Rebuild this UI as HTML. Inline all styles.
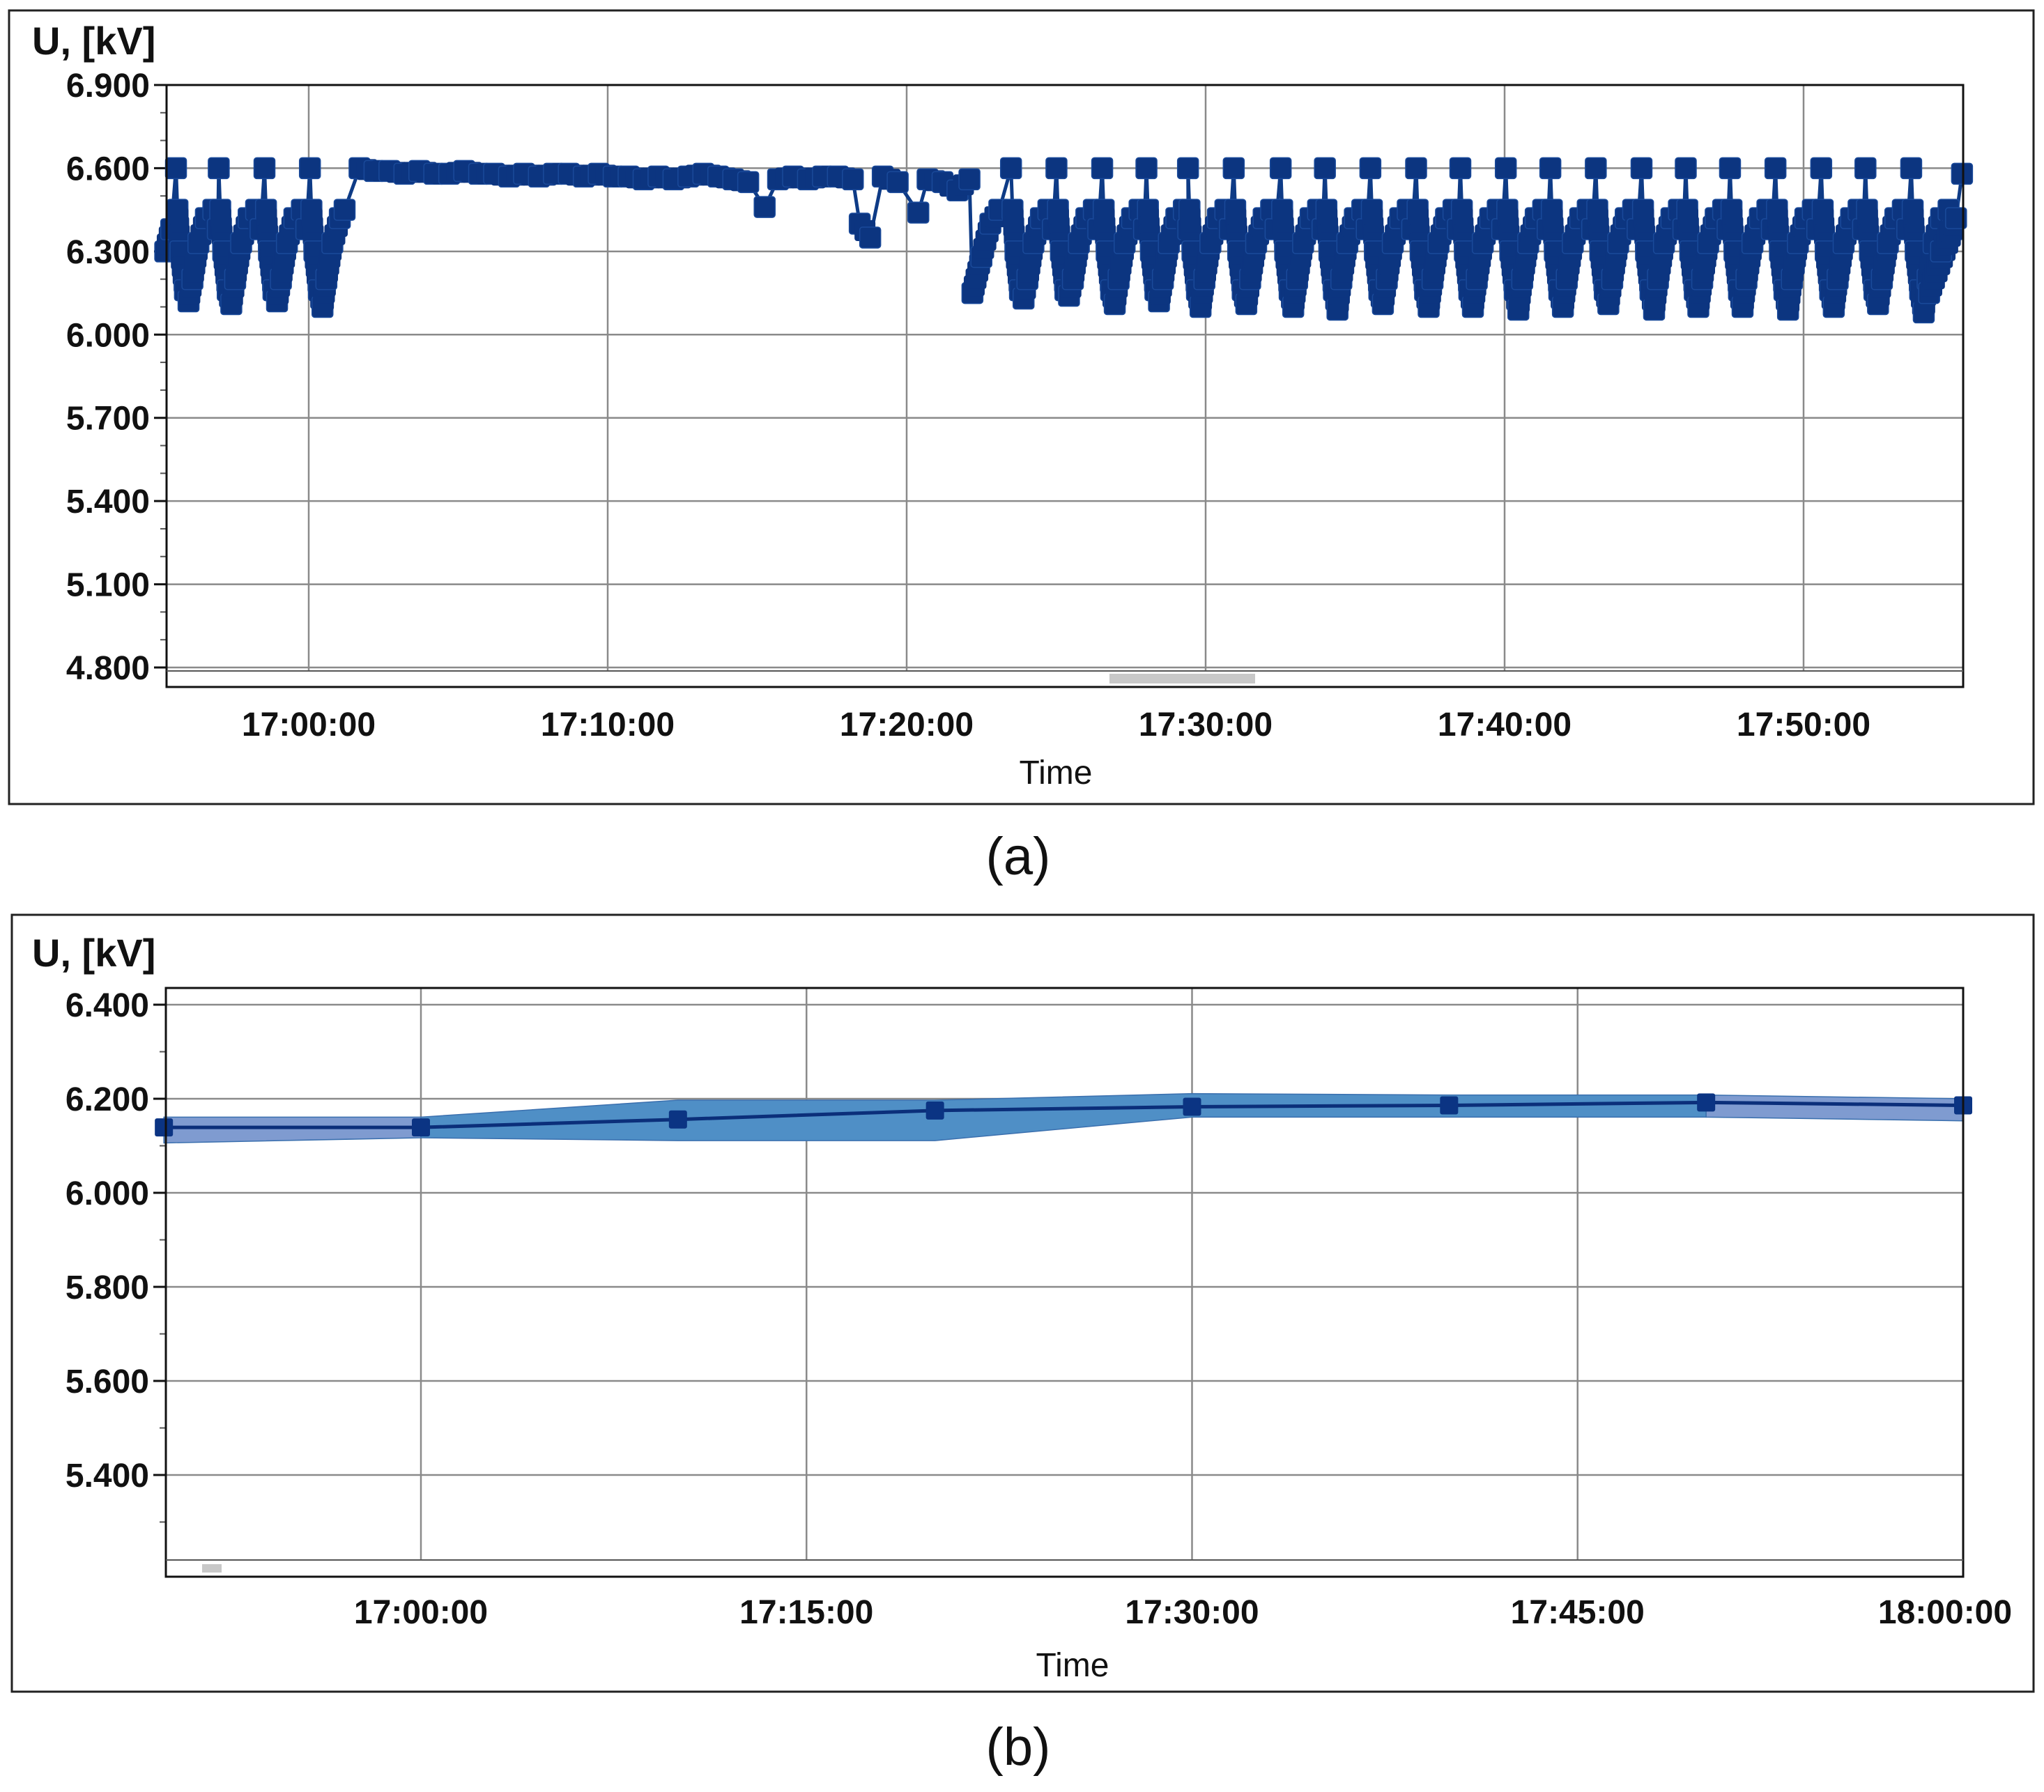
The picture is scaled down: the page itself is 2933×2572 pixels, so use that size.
<!DOCTYPE html>
<html><head><meta charset="utf-8">
<style>
html,body{margin:0;padding:0;background:#fff;}
svg{display:block;}
text{font-family:"Liberation Sans",sans-serif;}
.tick{font-size:48px;font-weight:bold;fill:#111;}
.ttl{font-size:56px;font-weight:bold;fill:#111;}
.axt{font-size:48px;fill:#111;}
.cap{font-size:76px;fill:#111;}
</style></head>
<body>
<svg id="chart" width="2933" height="2572" viewBox="0 0 2933 2572" xmlns="http://www.w3.org/2000/svg">
<rect x="0" y="0" width="2933" height="2572" fill="#fff"/>
<g id="pa">
<rect x="13" y="15" width="2905" height="1139" fill="none" stroke="#222" stroke-width="3"/>
<text class="ttl" x="46" y="78">U, [kV]</text>
<g id="pa-grid"></g><g id="pa-data"></g>
<rect x="239" y="122" width="2578" height="864" fill="none" stroke="#111" stroke-width="3"/>
<line x1="239" y1="963" x2="2817" y2="963" stroke="#555" stroke-width="2"/>
<rect x="1592" y="967" width="209" height="14" fill="#c8c8c8"/>
<text class="axt" x="1515" y="1125" text-anchor="middle">Time</text>
<text class="cap" x="1461" y="1255" text-anchor="middle">(a)</text>
</g>
<g id="pb">
<rect x="17" y="1313" width="2901" height="1115" fill="none" stroke="#222" stroke-width="3"/>
<text class="ttl" x="46" y="1387">U, [kV]</text>
<g id="pb-grid"></g><g id="pb-data"></g>
<rect x="238" y="1418" width="2579" height="845" fill="none" stroke="#111" stroke-width="3"/>
<line x1="238" y1="2239" x2="2817" y2="2239" stroke="#555" stroke-width="2"/>
<rect x="290" y="2245" width="28" height="12" fill="#c8c8c8"/>
<text class="axt" x="1539" y="2406" text-anchor="middle">Time</text>
<text class="cap" x="1461" y="2533" text-anchor="middle">(b)</text>
</g>
</svg>
<script>
// ---------- Panel (a) data (minutes relative to 17:00) ----------
const aYTicks = [4.8, 5.1, 5.4, 5.7, 6.0, 6.3, 6.6, 6.9];
const aYLabels = ["4.800","5.100","5.400","5.700","6.000","6.300","6.600","6.900"];
const aXTicks = [0, 10, 20, 30, 40, 50];
const aXLabels = ["17:00:00","17:10:00","17:20:00","17:30:00","17:40:00","17:50:00"];
const aCyclePeaks = [-4.44,-3.01,-1.48,0.04, 23.49,25.01,26.54,28.02,29.41,30.94,32.51,33.99,35.51,37.04,38.52,40.04,41.53,43.05,44.58,46.06,47.54,49.06,50.59,52.07,53.60];
const aCycleMins  = [6.12,6.11,6.12,6.10, 6.13,6.14,6.11,6.12,6.10,6.11,6.10,6.09,6.11,6.10,6.10,6.09,6.10,6.11,6.09,6.10,6.10,6.09,6.10,6.11,6.08];
const aCycleOffsets = [0, 0.05, 0.15, 0.3, 0.42, 0.55, 0.75, 1.0, 1.25, 1.4];
const aCycleShape   = [6.60, 6.45, 6.30, 6.16, null, 6.20, 6.33, 6.42, 6.45, 6.38];
const aStartTimes = [-4.8, -4.6];
const aStartVals  = [6.30, 6.38];
const aFlatTimes = [1.2,1.7,2.2,2.7,3.2,3.7,4.2,4.7,5.2,5.7,6.2,6.7,7.2,7.7,8.2,8.7,9.2,9.7,10.2,10.7,11.2,11.7,12.2,12.7,13.2,13.7,14.2,14.7,15.25,15.7,16.2,16.7,17.2,17.7,18.2,18.43,18.78,19.2,19.7,20.39,20.7,21.2,21.7,22.1];
const aFlatVals  = [6.45,6.60,6.59,6.59,6.58,6.59,6.58,6.58,6.59,6.58,6.58,6.57,6.58,6.57,6.58,6.58,6.57,6.58,6.57,6.57,6.56,6.57,6.56,6.57,6.58,6.57,6.56,6.55,6.46,6.56,6.57,6.56,6.57,6.57,6.56,6.40,6.35,6.57,6.55,6.44,6.56,6.55,6.52,6.56];
const aTailTimes = [22.2, 22.5, 22.8, 23.1];
const aTailVals  = [6.15, 6.28, 6.40, 6.45];
const aEndTimes = [54.2, 54.6, 55.1, 55.3];
const aEndVals  = [6.15, 6.30, 6.42, 6.58];

// ---------- Panel (b) data ----------
const bYTicks = [5.4, 5.6, 5.8, 6.0, 6.2, 6.4];
const bYLabels = ["5.400","5.600","5.800","6.000","6.200","6.400"];
const bXTicks = [0, 15, 30, 45, 60];
const bXLabels = ["17:00:00","17:15:00","17:30:00","17:45:00","18:00:00"];
const bTimes = [-10, 0, 10, 20, 30, 40, 50, 60];
const bMean  = [6.139, 6.139, 6.156, 6.175, 6.183, 6.186, 6.192, 6.186];
const bUpper = [6.161, 6.161, 6.197, 6.197, 6.211, 6.208, 6.208, 6.200];
const bLower = [6.106, 6.117, 6.111, 6.111, 6.161, 6.161, 6.161, 6.153];

const NS = "http://www.w3.org/2000/svg";
function mk(tag, attrs, parent){ const e=document.createElementNS(NS,tag); for(const k in attrs) e.setAttribute(k,attrs[k]); parent.appendChild(e); return e; }

const axA = { x:m=>443+(m)*42.9, y:v=>958-(v-4.8)/0.3*119.43 };
const axB = { x:m=>604+(m)*(2817-604)/60, y:v=>1442-(v-6.4)/0.2*135 };

function drawAxes(ax, grid, yT, yL, xT, xL, x0, x1, yTop, yBot, minorStep, xLabY){
  for(let i=0;i<yT.length;i++){
    const y=ax.y(yT[i]);
    const l=mk('line',{x1:x0,x2:x1,y1:y,y2:y,stroke:'#8a8a8a','stroke-width':2.5},grid);
    
    
    mk('line',{x1:x0-18,x2:x0,y1:y,y2:y,stroke:'#111','stroke-width':3},grid);
    const t=mk('text',{x:x0-24,y:y+17,'text-anchor':'end','class':'tick'},grid);
    t.textContent=yL[i];
    
    
    for(let k=1;k<4;k++){
      const v=yT[i]+k*minorStep;
      if(i<yT.length-1){ const yy=ax.y(v); if(yy>yTop) mk('line',{x1:x0-9,x2:x0,y1:yy,y2:yy,stroke:'#555','stroke-width':2},grid);}
    }
  }
  const lastMinor=ax.y(yT[0]-minorStep); if(lastMinor<yBot) mk('line',{x1:x0-9,x2:x0,y1:lastMinor,y2:lastMinor,stroke:'#555','stroke-width':2},grid);
  for(let i=0;i<xT.length;i++){
    const x=ax.x(xT[i]);
    const l=mk('line',{x1:x,x2:x,y1:yTop,y2:yBot,stroke:'#8a8a8a','stroke-width':2.5},grid);
    
    
    const t=mk('text',{x:Math.min(x,2791),y:xLabY,'text-anchor':'middle','class':'tick'},grid);
    t.textContent=xL[i];
    
    
  }
}
drawAxes(axA, document.getElementById('pa-grid'), aYTicks, aYLabels, aXTicks, aXLabels, 239, 2817, 122, 963, 0.1, 1056);
drawAxes(axB, document.getElementById('pb-grid'), bYTicks, bYLabels, bXTicks, bXLabels, 238, 2817, 1418, 2239, 0.1, 2330);

// ----- panel a series -----
const pts=[];
for(let i=0;i<aStartTimes.length;i++) pts.push([aStartTimes[i],aStartVals[i]]);
for(let c=0;c<aCyclePeaks.length;c++){
  if(c===4){ for(let i=0;i<aFlatTimes.length;i++) pts.push([aFlatTimes[i],aFlatVals[i]]);
             for(let i=0;i<aTailTimes.length;i++) pts.push([aTailTimes[i],aTailVals[i]]); }
  for(let j=0;j<aCycleOffsets.length;j++){
    const v = aCycleShape[j]===null ? aCycleMins[c] : aCycleShape[j];
    const t = aCyclePeaks[c]+aCycleOffsets[j];
    if(c===3 && t>1.2) continue;
    pts.push([t,v]);
  }
}
for(let i=0;i<aEndTimes.length;i++) pts.push([aEndTimes[i],aEndVals[i]]);
const gA=document.getElementById('pa-data');
const lineA=mk('polyline',{points:pts.map(p=>axA.x(p[0])+','+axA.y(p[1])).join(' '),fill:'none',stroke:'#0e3b86','stroke-width':5},gA);


const S=30;
for(let i=0;i<pts.length;i++){
  const p=pts[i];
  const r=mk('rect',{x:axA.x(p[0])-S/2,y:axA.y(p[1])-S/2,width:S,height:S,rx:4,fill:'#0c3580',stroke:'#1a4a9a','stroke-width':1.5},gA);
  
  
  if(i<pts.length-1){
    const q=pts[i+1];
    const same=(p[1]<6.5&&q[1]<6.5)||(p[1]>=6.5&&q[1]>=6.5);
    const dt=q[0]-p[0];
    if(same && dt<0.8){
      const dx=axA.x(q[0])-axA.x(p[0]), dy=axA.y(q[1])-axA.y(p[1]);
      const n=Math.floor(Math.hypot(dx,dy)/10);
      for(let k=1;k<n;k++){
        const f=k/n;
        const e=mk('rect',{x:axA.x(p[0])+dx*f-S/2,y:axA.y(p[1])+dy*f-S/2,width:S,height:S,rx:4,fill:'#0c3580'},gA);
        
        
      }
    }
  }
}

// ----- panel b series -----
const gB=document.getElementById('pb-data');
function band(i0,i1,fill){
  let d='';
  for(let i=i0;i<=i1;i++) d+=(i===i0?'M':'L')+axB.x(bTimes[i])+','+axB.y(bUpper[i]);
  for(let i=i1;i>=i0;i--) d+='L'+axB.x(bTimes[i])+','+axB.y(bLower[i]);
  return mk('path',{d:d+'Z',fill:fill,stroke:'#3a6fae','stroke-width':1.5},gB);
}
const b1=band(0,1,'#7f9bd0');


const b2=band(1,6,'#4f8fc6');


const b3=band(6,7,'#7f9bd0');


const lineB=mk('polyline',{points:bTimes.map((t,i)=>axB.x(t)+','+axB.y(bMean[i])).join(' '),fill:'none',stroke:'#0b2f7a','stroke-width':5},gB);


for(let i=0;i<bTimes.length;i++){
  const r=mk('rect',{x:axB.x(bTimes[i])-13,y:axB.y(bMean[i])-13,width:26,height:26,rx:3,fill:'#0b3483'},gB);
  
  
}
</script>
</body></html>
